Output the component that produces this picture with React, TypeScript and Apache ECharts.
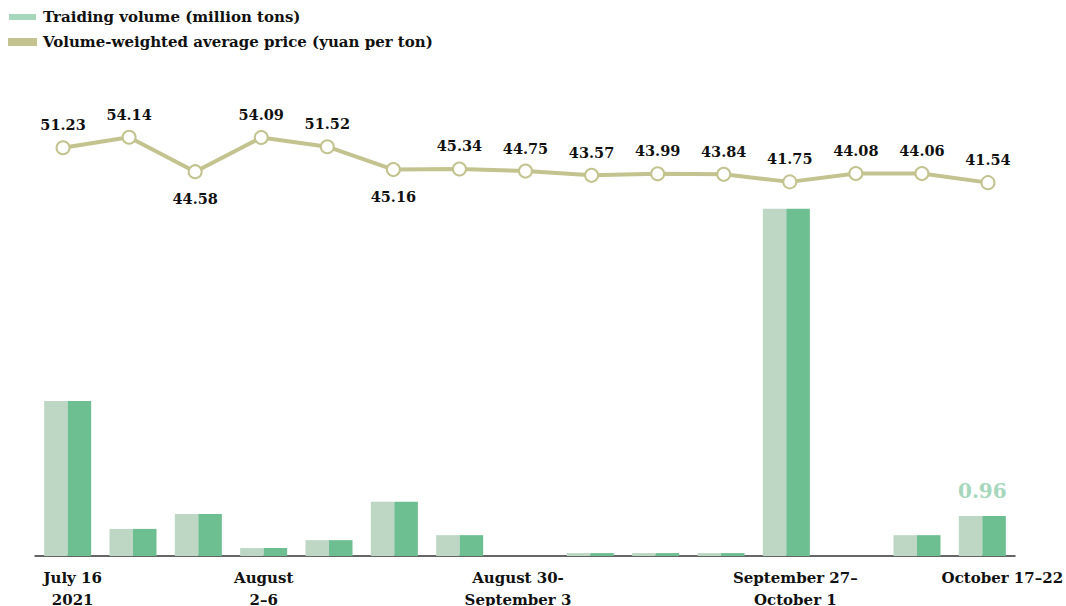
import React, { useEffect, useRef } from "react";
import * as echarts from "echarts";

const categories = [
  "July 16\n2021", "", "", "August\n2–6", "", "", "", "August 30-\nSeptember 3",
  "", "", "", "September 27–\nOctober 1", "", "", "October 17–22",
];
const volume = [3.72, 0.65, 1.01, 0.19, 0.38, 1.3, 0.5, 0, 0.07, 0.07, 0.07, 8.33, 0, 0.5, 0.96];
const price = [51.23, 54.14, 44.58, 54.09, 51.52, 45.16, 45.34, 44.75, 43.57, 43.99, 43.84, 41.75, 44.08, 44.06, 41.54];
const belowLabels = [2, 5];

const volName = "Traiding volume (million tons)";
const priceName = "Volume-weighted average price (yuan per ton)";
const FONT = "DejaVu Serif";

const labelStyleKey: Record<number, string> = { 0: "r5", 3: "c", 7: "l7", 11: "r9", 14: "r20" };

export default function App() {
  const ref = useRef<HTMLDivElement>(null);
  useEffect(() => {
    if (!ref.current) return;
    document.body.style.margin = "8px 0 0 8px";
    document.body.style.overflow = "hidden";
    const chart = echarts.init(ref.current, null, { renderer: "svg" });
    const last = volume.length - 1;
    const base = { fontFamily: FONT, fontWeight: "bold" as const, fontSize: 15, color: "#111", lineHeight: 22 };
    chart.setOption({
      animation: false,
      textStyle: { fontFamily: FONT },
      legend: {
        orient: "vertical",
        left: 0,
        top: 0,
        padding: 0,
        itemWidth: 27,
        itemHeight: 6,
        itemGap: 7,
        icon: "rect",
        textStyle: { fontFamily: FONT, fontWeight: "bold", fontSize: 15, color: "#111", lineHeight: 18, padding: [0, 0, 0, 2] },
        data: [
          { name: volName, itemStyle: { color: "#a6d7bd" } },
          { name: priceName, itemStyle: { color: "#c3c38f" } },
        ],
      },
      grid: [
        { left: 27, width: 980, top: 92, height: 456, outerBoundsMode: "none", containLabel: false },
        { left: 22, width: 991, top: 92, height: 456, outerBoundsMode: "none", containLabel: false },
      ],
      xAxis: [
        {
          type: "category",
          gridIndex: 0,
          data: categories,
          axisLine: { lineStyle: { color: "#333", width: 1.5 } },
          axisTick: { show: false },
          axisLabel: {
            interval: 0,
            margin: 11,
            ...base,
            formatter: (_v: string, i: number) => {
              const t = categories[i];
              if (!t) return "";
              const k = labelStyleKey[i] || "c";
              return t
                .split("\n")
                .map((line) => `{${k}|${line}}`)
                .join("\n");
            },
            rich: {
              c: { ...base },
              r5: { ...base, padding: [0, 0, 0, 10] },
              l7: { ...base, padding: [0, 14, 0, 0] },
              r9: { ...base, padding: [0, 0, 0, 18] },
              r20: { ...base, padding: [0, 0, 0, 40] },
            },
          },
        },
        { type: "category", gridIndex: 1, data: categories, show: false },
      ],
      yAxis: [
        { type: "value", gridIndex: 0, min: 0, max: 10.94, show: false, splitLine: { show: false } },
        { type: "value", gridIndex: 1, min: -62.2, max: 64.5, show: false, splitLine: { show: false } },
      ],
      series: [
        {
          name: volName,
          type: "bar",
          xAxisIndex: 0,
          yAxisIndex: 0,
          barWidth: 23.5,
          barGap: "0%",
          itemStyle: { color: "#bdd7c4" },
          data: volume.map((v, i) =>
            i === last
              ? {
                  value: v,
                  label: {
                    show: true,
                    position: "top",
                    offset: [11.75, -10],
                    fontFamily: FONT,
                    fontWeight: "bold",
                    fontSize: 20,
                    color: "#a6d7bd",
                  },
                }
              : v
          ),
        },
        {
          name: volName,
          type: "bar",
          xAxisIndex: 0,
          yAxisIndex: 0,
          barWidth: 23.5,
          barGap: "0%",
          itemStyle: { color: "#6dbe91" },
          data: volume,
        },
        {
          name: priceName,
          type: "line",
          xAxisIndex: 1,
          yAxisIndex: 1,
          symbol: "circle",
          symbolSize: 13,
          lineStyle: { color: "#c3c38f", width: 4 },
          itemStyle: { color: "#ffffff", borderColor: "#c3c38f", borderWidth: 2 },
          z: 5,
          label: {
            show: true,
            position: "top",
            distance: 8,
            fontFamily: FONT,
            fontWeight: "bold",
            fontSize: 14.5,
            color: "#111",
          },
          data: price.map((v, i) =>
            belowLabels.includes(i)
              ? { value: v, label: { position: "bottom", distance: 12 } }
              : v
          ),
        },
      ],
    });
    return () => chart.dispose();
  }, []);
  return <div ref={ref} style={{ width: 1058, height: 598 }} />;
}
